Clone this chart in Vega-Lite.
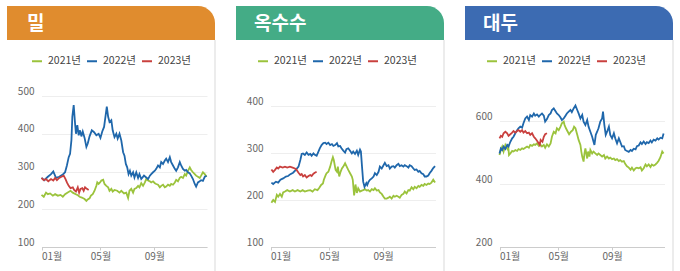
{
  "$schema": "https://vega.github.io/schema/vega-lite/v6.json",
  "padding": {"left": 7, "top": 6, "right": 2, "bottom": 0},
  "background": "white",
  "config": {
    "view": {"stroke": null},
    "font": "Noto Sans CJK KR",
    "axis": {"labelFont": "Noto Sans CJK KR", "labelFontSize": 10, "labelColor": "#666666", "title": null},
    "legend": {"labelFont": "Noto Sans CJK KR"}
  },
  "datasets": {
    "wheat": [
      {"date":"2021-01-01","price":238},{"date":"2021-01-06","price":233},{"date":"2021-01-11","price":244},{"date":"2021-01-15","price":240},{"date":"2021-01-20","price":242},{"date":"2021-01-26","price":236},{"date":"2021-01-31","price":240},{"date":"2021-02-06","price":236},{"date":"2021-02-12","price":238},{"date":"2021-02-17","price":233},{"date":"2021-02-22","price":240},{"date":"2021-02-27","price":244},{"date":"2021-03-05","price":249},{"date":"2021-03-10","price":244},{"date":"2021-03-13","price":242},{"date":"2021-03-20","price":238},{"date":"2021-03-25","price":233},{"date":"2021-03-30","price":231},{"date":"2021-04-05","price":227},{"date":"2021-04-09","price":222},{"date":"2021-04-12","price":226},{"date":"2021-04-16","price":229},{"date":"2021-04-19","price":236},{"date":"2021-04-23","price":240},{"date":"2021-04-27","price":249},{"date":"2021-05-01","price":262},{"date":"2021-05-03","price":271},{"date":"2021-05-06","price":267},{"date":"2021-05-09","price":271},{"date":"2021-05-12","price":276},{"date":"2021-05-16","price":278},{"date":"2021-05-19","price":267},{"date":"2021-05-23","price":262},{"date":"2021-05-27","price":258},{"date":"2021-05-30","price":249},{"date":"2021-06-03","price":254},{"date":"2021-06-06","price":247},{"date":"2021-06-10","price":251},{"date":"2021-06-16","price":249},{"date":"2021-06-21","price":244},{"date":"2021-06-25","price":249},{"date":"2021-07-01","price":242},{"date":"2021-07-06","price":244},{"date":"2021-07-10","price":230},{"date":"2021-07-13","price":249},{"date":"2021-07-17","price":254},{"date":"2021-07-21","price":244},{"date":"2021-07-24","price":254},{"date":"2021-07-28","price":256},{"date":"2021-08-01","price":262},{"date":"2021-08-04","price":258},{"date":"2021-08-08","price":269},{"date":"2021-08-12","price":262},{"date":"2021-08-16","price":271},{"date":"2021-08-19","price":280},{"date":"2021-08-23","price":276},{"date":"2021-08-27","price":274},{"date":"2021-08-30","price":271},{"date":"2021-09-03","price":274},{"date":"2021-09-07","price":269},{"date":"2021-09-10","price":267},{"date":"2021-09-14","price":265},{"date":"2021-09-18","price":258},{"date":"2021-09-21","price":262},{"date":"2021-09-25","price":265},{"date":"2021-09-29","price":258},{"date":"2021-10-02","price":260},{"date":"2021-10-06","price":265},{"date":"2021-10-10","price":262},{"date":"2021-10-13","price":267},{"date":"2021-10-17","price":265},{"date":"2021-10-21","price":271},{"date":"2021-10-24","price":278},{"date":"2021-10-28","price":274},{"date":"2021-11-01","price":283},{"date":"2021-11-04","price":286},{"date":"2021-11-08","price":283},{"date":"2021-11-12","price":293},{"date":"2021-11-15","price":289},{"date":"2021-11-19","price":302},{"date":"2021-11-23","price":311},{"date":"2021-11-26","price":304},{"date":"2021-11-30","price":298},{"date":"2021-12-04","price":293},{"date":"2021-12-07","price":289},{"date":"2021-12-11","price":286},{"date":"2021-12-15","price":283},{"date":"2021-12-18","price":289},{"date":"2021-12-22","price":298},{"date":"2021-12-26","price":293},{"date":"2021-12-30","price":286},
      {"date":"2022-01-01","price":283},{"date":"2022-01-07","price":277},{"date":"2022-01-15","price":286},{"date":"2022-01-22","price":293},{"date":"2022-01-27","price":300},{"date":"2022-02-02","price":283},{"date":"2022-02-09","price":286},{"date":"2022-02-17","price":292},{"date":"2022-02-22","price":298},{"date":"2022-02-26","price":316},{"date":"2022-03-01","price":338},{"date":"2022-03-04","price":347},{"date":"2022-03-07","price":383},{"date":"2022-03-09","price":445},{"date":"2022-03-12","price":476},{"date":"2022-03-15","price":427},{"date":"2022-03-17","price":400},{"date":"2022-03-20","price":423},{"date":"2022-03-23","price":396},{"date":"2022-03-26","price":409},{"date":"2022-03-29","price":393},{"date":"2022-04-01","price":406},{"date":"2022-04-05","price":389},{"date":"2022-04-09","price":365},{"date":"2022-04-12","price":374},{"date":"2022-04-16","price":393},{"date":"2022-04-21","price":409},{"date":"2022-04-26","price":404},{"date":"2022-05-01","price":396},{"date":"2022-05-06","price":400},{"date":"2022-05-10","price":389},{"date":"2022-05-14","price":406},{"date":"2022-05-18","price":418},{"date":"2022-05-21","price":445},{"date":"2022-05-24","price":472},{"date":"2022-05-27","price":445},{"date":"2022-05-30","price":431},{"date":"2022-06-03","price":436},{"date":"2022-06-06","price":409},{"date":"2022-06-10","price":391},{"date":"2022-06-14","price":400},{"date":"2022-06-17","price":387},{"date":"2022-06-21","price":400},{"date":"2022-06-25","price":382},{"date":"2022-06-29","price":351},{"date":"2022-07-02","price":342},{"date":"2022-07-05","price":320},{"date":"2022-07-08","price":311},{"date":"2022-07-11","price":293},{"date":"2022-07-14","price":302},{"date":"2022-07-17","price":289},{"date":"2022-07-21","price":298},{"date":"2022-07-24","price":284},{"date":"2022-07-28","price":298},{"date":"2022-08-01","price":283},{"date":"2022-08-04","price":293},{"date":"2022-08-08","price":280},{"date":"2022-08-14","price":289},{"date":"2022-08-19","price":284},{"date":"2022-08-23","price":280},{"date":"2022-08-27","price":289},{"date":"2022-08-30","price":293},{"date":"2022-09-03","price":298},{"date":"2022-09-07","price":302},{"date":"2022-09-10","price":307},{"date":"2022-09-14","price":316},{"date":"2022-09-18","price":311},{"date":"2022-09-21","price":325},{"date":"2022-09-25","price":320},{"date":"2022-09-29","price":329},{"date":"2022-10-02","price":334},{"date":"2022-10-06","price":325},{"date":"2022-10-10","price":338},{"date":"2022-10-13","price":325},{"date":"2022-10-17","price":316},{"date":"2022-10-21","price":307},{"date":"2022-10-24","price":302},{"date":"2022-10-28","price":311},{"date":"2022-11-01","price":325},{"date":"2022-11-04","price":316},{"date":"2022-11-08","price":307},{"date":"2022-11-12","price":302},{"date":"2022-11-15","price":304},{"date":"2022-11-19","price":298},{"date":"2022-11-23","price":295},{"date":"2022-11-26","price":289},{"date":"2022-11-30","price":280},{"date":"2022-12-04","price":267},{"date":"2022-12-07","price":260},{"date":"2022-12-11","price":271},{"date":"2022-12-15","price":274},{"date":"2022-12-18","price":277},{"date":"2022-12-22","price":275},{"date":"2022-12-26","price":286},{"date":"2022-12-30","price":289},
      {"date":"2023-01-01","price":283},{"date":"2023-01-06","price":277},{"date":"2023-01-11","price":280},{"date":"2023-01-16","price":274},{"date":"2023-01-22","price":280},{"date":"2023-01-27","price":276},{"date":"2023-01-31","price":283},{"date":"2023-02-04","price":277},{"date":"2023-02-09","price":283},{"date":"2023-02-14","price":286},{"date":"2023-02-19","price":289},{"date":"2023-02-23","price":280},{"date":"2023-02-26","price":271},{"date":"2023-03-01","price":262},{"date":"2023-03-05","price":256},{"date":"2023-03-10","price":258},{"date":"2023-03-13","price":251},{"date":"2023-03-17","price":247},{"date":"2023-03-21","price":258},{"date":"2023-03-24","price":244},{"date":"2023-03-27","price":254},{"date":"2023-03-31","price":256},{"date":"2023-04-03","price":249},{"date":"2023-04-06","price":258},{"date":"2023-04-10","price":254},{"date":"2023-04-14","price":251}
    ],
    "corn": [
      {"date":"2021-01-03","price":194},{"date":"2021-01-07","price":200},{"date":"2021-01-11","price":196},{"date":"2021-01-15","price":211},{"date":"2021-01-18","price":207},{"date":"2021-01-22","price":213},{"date":"2021-01-26","price":207},{"date":"2021-01-29","price":216},{"date":"2021-02-02","price":218},{"date":"2021-02-07","price":221},{"date":"2021-02-13","price":218},{"date":"2021-02-19","price":221},{"date":"2021-02-24","price":218},{"date":"2021-03-01","price":221},{"date":"2021-03-07","price":218},{"date":"2021-03-12","price":221},{"date":"2021-03-17","price":218},{"date":"2021-03-23","price":220},{"date":"2021-03-29","price":221},{"date":"2021-04-03","price":218},{"date":"2021-04-08","price":223},{"date":"2021-04-14","price":221},{"date":"2021-04-18","price":226},{"date":"2021-04-22","price":232},{"date":"2021-04-26","price":235},{"date":"2021-04-28","price":243},{"date":"2021-05-02","price":253},{"date":"2021-05-04","price":257},{"date":"2021-05-08","price":260},{"date":"2021-05-12","price":271},{"date":"2021-05-15","price":282},{"date":"2021-05-18","price":291},{"date":"2021-05-20","price":285},{"date":"2021-05-24","price":264},{"date":"2021-05-27","price":260},{"date":"2021-05-29","price":271},{"date":"2021-06-01","price":250},{"date":"2021-06-04","price":260},{"date":"2021-06-07","price":267},{"date":"2021-06-10","price":271},{"date":"2021-06-14","price":278},{"date":"2021-06-17","price":272},{"date":"2021-06-21","price":264},{"date":"2021-06-25","price":257},{"date":"2021-06-29","price":250},{"date":"2021-07-01","price":243},{"date":"2021-07-04","price":210},{"date":"2021-07-07","price":233},{"date":"2021-07-10","price":215},{"date":"2021-07-13","price":225},{"date":"2021-07-17","price":218},{"date":"2021-07-21","price":220},{"date":"2021-07-24","price":221},{"date":"2021-07-28","price":223},{"date":"2021-08-01","price":220},{"date":"2021-08-04","price":221},{"date":"2021-08-08","price":218},{"date":"2021-08-12","price":223},{"date":"2021-08-16","price":221},{"date":"2021-08-19","price":225},{"date":"2021-08-23","price":220},{"date":"2021-08-27","price":221},{"date":"2021-08-30","price":216},{"date":"2021-09-03","price":213},{"date":"2021-09-07","price":207},{"date":"2021-09-10","price":203},{"date":"2021-09-14","price":203},{"date":"2021-09-18","price":205},{"date":"2021-09-21","price":207},{"date":"2021-09-25","price":203},{"date":"2021-09-29","price":209},{"date":"2021-10-02","price":207},{"date":"2021-10-06","price":209},{"date":"2021-10-10","price":207},{"date":"2021-10-13","price":205},{"date":"2021-10-17","price":211},{"date":"2021-10-21","price":213},{"date":"2021-10-24","price":218},{"date":"2021-10-28","price":214},{"date":"2021-11-01","price":221},{"date":"2021-11-04","price":220},{"date":"2021-11-08","price":227},{"date":"2021-11-12","price":223},{"date":"2021-11-15","price":228},{"date":"2021-11-19","price":225},{"date":"2021-11-23","price":230},{"date":"2021-11-26","price":228},{"date":"2021-11-30","price":232},{"date":"2021-12-04","price":230},{"date":"2021-12-07","price":234},{"date":"2021-12-11","price":232},{"date":"2021-12-15","price":235},{"date":"2021-12-18","price":234},{"date":"2021-12-22","price":237},{"date":"2021-12-26","price":243},{"date":"2021-12-30","price":237},
      {"date":"2022-01-03","price":237},{"date":"2022-01-07","price":234},{"date":"2022-01-13","price":239},{"date":"2022-01-18","price":237},{"date":"2022-01-23","price":243},{"date":"2022-01-29","price":246},{"date":"2022-02-04","price":250},{"date":"2022-02-09","price":251},{"date":"2022-02-14","price":255},{"date":"2022-02-20","price":258},{"date":"2022-02-26","price":264},{"date":"2022-03-03","price":271},{"date":"2022-03-07","price":285},{"date":"2022-03-10","price":298},{"date":"2022-03-13","price":299},{"date":"2022-03-17","price":296},{"date":"2022-03-21","price":301},{"date":"2022-03-25","price":296},{"date":"2022-03-29","price":298},{"date":"2022-04-01","price":294},{"date":"2022-04-05","price":299},{"date":"2022-04-08","price":296},{"date":"2022-04-12","price":294},{"date":"2022-04-16","price":303},{"date":"2022-04-19","price":310},{"date":"2022-04-23","price":317},{"date":"2022-04-27","price":321},{"date":"2022-05-01","price":322},{"date":"2022-05-04","price":319},{"date":"2022-05-08","price":322},{"date":"2022-05-12","price":317},{"date":"2022-05-16","price":319},{"date":"2022-05-19","price":315},{"date":"2022-05-23","price":317},{"date":"2022-05-27","price":321},{"date":"2022-05-30","price":314},{"date":"2022-06-03","price":315},{"date":"2022-06-06","price":310},{"date":"2022-06-10","price":305},{"date":"2022-06-14","price":301},{"date":"2022-06-17","price":308},{"date":"2022-06-21","price":310},{"date":"2022-06-25","price":305},{"date":"2022-06-29","price":299},{"date":"2022-07-02","price":303},{"date":"2022-07-06","price":298},{"date":"2022-07-10","price":305},{"date":"2022-07-13","price":296},{"date":"2022-07-17","price":307},{"date":"2022-07-19","price":303},{"date":"2022-07-22","price":264},{"date":"2022-07-24","price":239},{"date":"2022-07-27","price":228},{"date":"2022-07-31","price":236},{"date":"2022-08-02","price":232},{"date":"2022-08-05","price":239},{"date":"2022-08-08","price":243},{"date":"2022-08-12","price":246},{"date":"2022-08-16","price":250},{"date":"2022-08-19","price":257},{"date":"2022-08-23","price":253},{"date":"2022-08-27","price":260},{"date":"2022-08-30","price":271},{"date":"2022-09-03","price":267},{"date":"2022-09-07","price":274},{"date":"2022-09-10","price":279},{"date":"2022-09-14","price":272},{"date":"2022-09-18","price":274},{"date":"2022-09-21","price":267},{"date":"2022-09-25","price":271},{"date":"2022-09-29","price":272},{"date":"2022-10-02","price":269},{"date":"2022-10-06","price":274},{"date":"2022-10-10","price":277},{"date":"2022-10-13","price":272},{"date":"2022-10-17","price":274},{"date":"2022-10-21","price":271},{"date":"2022-10-24","price":274},{"date":"2022-10-28","price":272},{"date":"2022-11-01","price":269},{"date":"2022-11-04","price":274},{"date":"2022-11-08","price":272},{"date":"2022-11-12","price":267},{"date":"2022-11-15","price":264},{"date":"2022-11-19","price":265},{"date":"2022-11-23","price":260},{"date":"2022-11-26","price":262},{"date":"2022-11-30","price":257},{"date":"2022-12-04","price":255},{"date":"2022-12-07","price":250},{"date":"2022-12-11","price":250},{"date":"2022-12-15","price":252},{"date":"2022-12-18","price":257},{"date":"2022-12-22","price":262},{"date":"2022-12-26","price":268},{"date":"2022-12-30","price":272},
      {"date":"2023-01-03","price":265},{"date":"2023-01-07","price":260},{"date":"2023-01-11","price":264},{"date":"2023-01-15","price":269},{"date":"2023-01-18","price":267},{"date":"2023-01-22","price":271},{"date":"2023-01-28","price":269},{"date":"2023-02-02","price":271},{"date":"2023-02-07","price":269},{"date":"2023-02-13","price":271},{"date":"2023-02-19","price":269},{"date":"2023-02-24","price":267},{"date":"2023-02-27","price":265},{"date":"2023-03-03","price":258},{"date":"2023-03-07","price":253},{"date":"2023-03-10","price":255},{"date":"2023-03-13","price":250},{"date":"2023-03-17","price":253},{"date":"2023-03-21","price":248},{"date":"2023-03-25","price":251},{"date":"2023-03-29","price":253},{"date":"2023-04-01","price":251},{"date":"2023-04-05","price":256},{"date":"2023-04-08","price":258},{"date":"2023-04-12","price":260}
    ],
    "soy": [
      {"date":"2021-01-01","price":492},{"date":"2021-01-04","price":508},{"date":"2021-01-07","price":519},{"date":"2021-01-10","price":503},{"date":"2021-01-14","price":524},{"date":"2021-01-18","price":513},{"date":"2021-01-20","price":526},{"date":"2021-01-22","price":492},{"date":"2021-01-25","price":497},{"date":"2021-01-29","price":505},{"date":"2021-02-01","price":503},{"date":"2021-02-05","price":508},{"date":"2021-02-09","price":505},{"date":"2021-02-12","price":511},{"date":"2021-02-16","price":508},{"date":"2021-02-20","price":513},{"date":"2021-02-23","price":511},{"date":"2021-02-27","price":515},{"date":"2021-03-02","price":519},{"date":"2021-03-06","price":515},{"date":"2021-03-09","price":524},{"date":"2021-03-13","price":521},{"date":"2021-03-17","price":526},{"date":"2021-03-20","price":524},{"date":"2021-03-24","price":529},{"date":"2021-03-28","price":521},{"date":"2021-03-31","price":526},{"date":"2021-04-04","price":519},{"date":"2021-04-08","price":524},{"date":"2021-04-11","price":515},{"date":"2021-04-15","price":526},{"date":"2021-04-19","price":519},{"date":"2021-04-23","price":529},{"date":"2021-04-26","price":550},{"date":"2021-04-30","price":566},{"date":"2021-05-04","price":561},{"date":"2021-05-07","price":577},{"date":"2021-05-11","price":571},{"date":"2021-05-15","price":582},{"date":"2021-05-18","price":593},{"date":"2021-05-22","price":598},{"date":"2021-05-24","price":587},{"date":"2021-05-27","price":577},{"date":"2021-05-31","price":566},{"date":"2021-06-03","price":558},{"date":"2021-06-07","price":566},{"date":"2021-06-11","price":571},{"date":"2021-06-14","price":582},{"date":"2021-06-17","price":577},{"date":"2021-06-21","price":556},{"date":"2021-06-24","price":540},{"date":"2021-06-28","price":524},{"date":"2021-06-30","price":503},{"date":"2021-07-02","price":487},{"date":"2021-07-05","price":471},{"date":"2021-07-07","price":497},{"date":"2021-07-09","price":513},{"date":"2021-07-13","price":481},{"date":"2021-07-15","price":503},{"date":"2021-07-18","price":487},{"date":"2021-07-20","price":508},{"date":"2021-07-24","price":497},{"date":"2021-07-27","price":503},{"date":"2021-07-31","price":497},{"date":"2021-08-04","price":492},{"date":"2021-08-07","price":497},{"date":"2021-08-11","price":492},{"date":"2021-08-15","price":487},{"date":"2021-08-19","price":492},{"date":"2021-08-22","price":481},{"date":"2021-08-26","price":487},{"date":"2021-08-30","price":481},{"date":"2021-09-02","price":484},{"date":"2021-09-06","price":479},{"date":"2021-09-10","price":481},{"date":"2021-09-13","price":476},{"date":"2021-09-17","price":479},{"date":"2021-09-21","price":473},{"date":"2021-09-24","price":476},{"date":"2021-09-28","price":471},{"date":"2021-10-02","price":473},{"date":"2021-10-05","price":464},{"date":"2021-10-09","price":456},{"date":"2021-10-13","price":452},{"date":"2021-10-17","price":445},{"date":"2021-10-20","price":452},{"date":"2021-10-24","price":443},{"date":"2021-10-28","price":450},{"date":"2021-10-31","price":452},{"date":"2021-11-04","price":450},{"date":"2021-11-08","price":453},{"date":"2021-11-11","price":443},{"date":"2021-11-15","price":450},{"date":"2021-11-19","price":462},{"date":"2021-11-22","price":456},{"date":"2021-11-26","price":462},{"date":"2021-11-30","price":454},{"date":"2021-12-03","price":462},{"date":"2021-12-07","price":458},{"date":"2021-12-11","price":462},{"date":"2021-12-15","price":468},{"date":"2021-12-18","price":474},{"date":"2021-12-22","price":485},{"date":"2021-12-26","price":503},{"date":"2021-12-29","price":497},
      {"date":"2022-01-01","price":497},{"date":"2022-01-04","price":513},{"date":"2022-01-07","price":508},{"date":"2022-01-10","price":519},{"date":"2022-01-14","price":511},{"date":"2022-01-18","price":524},{"date":"2022-01-21","price":519},{"date":"2022-01-25","price":534},{"date":"2022-01-29","price":545},{"date":"2022-02-01","price":550},{"date":"2022-02-05","price":561},{"date":"2022-02-09","price":571},{"date":"2022-02-12","price":577},{"date":"2022-02-16","price":582},{"date":"2022-02-20","price":579},{"date":"2022-02-23","price":593},{"date":"2022-02-27","price":608},{"date":"2022-03-02","price":614},{"date":"2022-03-06","price":603},{"date":"2022-03-09","price":619},{"date":"2022-03-13","price":614},{"date":"2022-03-17","price":624},{"date":"2022-03-20","price":617},{"date":"2022-03-24","price":621},{"date":"2022-03-28","price":614},{"date":"2022-03-31","price":619},{"date":"2022-04-04","price":624},{"date":"2022-04-08","price":617},{"date":"2022-04-11","price":598},{"date":"2022-04-15","price":606},{"date":"2022-04-19","price":619},{"date":"2022-04-23","price":624},{"date":"2022-04-26","price":635},{"date":"2022-04-30","price":640},{"date":"2022-05-04","price":631},{"date":"2022-05-07","price":624},{"date":"2022-05-11","price":619},{"date":"2022-05-15","price":611},{"date":"2022-05-18","price":603},{"date":"2022-05-22","price":608},{"date":"2022-05-26","price":617},{"date":"2022-05-29","price":624},{"date":"2022-06-02","price":630},{"date":"2022-06-06","price":635},{"date":"2022-06-09","price":628},{"date":"2022-06-13","price":640},{"date":"2022-06-17","price":649},{"date":"2022-06-21","price":635},{"date":"2022-06-24","price":624},{"date":"2022-06-28","price":608},{"date":"2022-07-02","price":619},{"date":"2022-07-05","price":598},{"date":"2022-07-09","price":587},{"date":"2022-07-13","price":603},{"date":"2022-07-16","price":582},{"date":"2022-07-20","price":566},{"date":"2022-07-24","price":550},{"date":"2022-07-27","price":534},{"date":"2022-07-29","price":524},{"date":"2022-08-01","price":556},{"date":"2022-08-04","price":566},{"date":"2022-08-07","price":577},{"date":"2022-08-11","price":598},{"date":"2022-08-15","price":608},{"date":"2022-08-17","price":630},{"date":"2022-08-20","price":587},{"date":"2022-08-23","price":556},{"date":"2022-08-26","price":566},{"date":"2022-08-30","price":582},{"date":"2022-09-02","price":556},{"date":"2022-09-06","price":545},{"date":"2022-09-10","price":561},{"date":"2022-09-13","price":545},{"date":"2022-09-17","price":529},{"date":"2022-09-21","price":545},{"date":"2022-09-24","price":534},{"date":"2022-09-28","price":519},{"date":"2022-10-02","price":520},{"date":"2022-10-05","price":508},{"date":"2022-10-09","price":505},{"date":"2022-10-13","price":502},{"date":"2022-10-17","price":508},{"date":"2022-10-20","price":505},{"date":"2022-10-24","price":512},{"date":"2022-10-28","price":510},{"date":"2022-10-31","price":520},{"date":"2022-11-04","price":522},{"date":"2022-11-08","price":532},{"date":"2022-11-11","price":527},{"date":"2022-11-15","price":535},{"date":"2022-11-19","price":527},{"date":"2022-11-22","price":533},{"date":"2022-11-26","price":530},{"date":"2022-11-30","price":538},{"date":"2022-12-03","price":532},{"date":"2022-12-07","price":541},{"date":"2022-12-11","price":538},{"date":"2022-12-15","price":545},{"date":"2022-12-18","price":541},{"date":"2022-12-22","price":547},{"date":"2022-12-26","price":545},{"date":"2022-12-29","price":560},
      {"date":"2023-01-01","price":545},{"date":"2023-01-04","price":553},{"date":"2023-01-07","price":550},{"date":"2023-01-10","price":561},{"date":"2023-01-14","price":566},{"date":"2023-01-18","price":561},{"date":"2023-01-21","price":553},{"date":"2023-01-25","price":558},{"date":"2023-01-29","price":563},{"date":"2023-02-01","price":568},{"date":"2023-02-05","price":563},{"date":"2023-02-09","price":568},{"date":"2023-02-12","price":571},{"date":"2023-02-16","price":566},{"date":"2023-02-20","price":571},{"date":"2023-02-23","price":563},{"date":"2023-02-27","price":568},{"date":"2023-03-02","price":561},{"date":"2023-03-06","price":563},{"date":"2023-03-09","price":556},{"date":"2023-03-13","price":561},{"date":"2023-03-17","price":550},{"date":"2023-03-20","price":545},{"date":"2023-03-24","price":537},{"date":"2023-03-28","price":529},{"date":"2023-03-30","price":524},{"date":"2023-04-01","price":540},{"date":"2023-04-05","price":534},{"date":"2023-04-08","price":550},{"date":"2023-04-11","price":558},{"date":"2023-04-15","price":561}
    ]
  },
  "hconcat": [
    {
      "width": 208, "height": 265,
      "layer": [
        {"data": {"values": [{"name": "밀"}]}, "mark": {"type": "rect", "color": "#E08C2E", "cornerRadiusTopRight": 24}, "encoding": {"x": {"value": 0}, "x2": {"value": "width"}, "y": {"value": 0}, "y2": {"value": 34}}},
        {"data": {"values": [{"name": "밀"}]}, "mark": {"type": "rule", "color": "#d9d9d9", "strokeWidth": 1}, "encoding": {"x": {"value": "width"}, "y": {"value": 34}, "y2": {"value": "height"}}},
        {"data": {"values": [{"name": "밀"}]}, "mark": {"type": "text", "color": "#ffffff", "fontSize": 19, "fontWeight": "bold", "align": "left", "baseline": "middle", "font": "Noto Sans CJK KR"}, "encoding": {"x": {"value": 20}, "y": {"value": 17.5}, "text": {"field": "name"}}},
        {
          "data": {"name": "wheat"},
          "mark": {"type": "line", "strokeWidth": 1.8},
          "encoding": {
            "x": {"field": "date", "timeUnit": "monthdate", "type": "temporal",
              "scale": {"domain": [{"year": 2012, "month": 1, "date": 1}, {"year": 2012, "month": 12, "date": 31}], "range": [34.5, 200]},
              "axis": {"orient": "bottom", "offset": -24, "values": [{"year": 2012, "month": 1, "date": 1}, {"year": 2012, "month": 5, "date": 10}, {"year": 2012, "month": 9, "date": 6}], "format": "%m월", "grid": false, "domainColor": "#cccccc", "tickColor": "#cccccc", "tickSize": 3, "labelPadding": 1, "labelFlush": true}},
            "y": {"field": "price", "type": "quantitative",
              "scale": {"domain": [100, 500], "range": [241, 90], "nice": false, "zero": false},
              "axis": {"orient": "left", "offset": -29, "values": [100, 200, 300, 400, 500], "ticks": false, "domain": false, "labelPadding": 2, "labelOffset": -5, "grid": true, "gridColor": "#eeeeee"}},
            "color": {"field": "date", "timeUnit": "year", "type": "ordinal",
              "scale": {"range": ["#9BC33C", "#1F67AB", "#C9403E"]},
              "legend": {"orient": "none", "legendX": 24, "legendY": 49, "direction": "horizontal", "columns": 3, "title": null, "symbolType": "stroke", "symbolSize": 100, "symbolStrokeWidth": 2, "labelFontSize": 10.5, "labelColor": "#444444", "labelExpr": "datum.label + '년'", "columnPadding": 2, "labelOffset": 5}}
          }
        }
      ]
    },
    {
      "width": 208, "height": 265,
      "layer": [
        {"data": {"values": [{"name": "옥수수"}]}, "mark": {"type": "rect", "color": "#44AC86", "cornerRadiusTopRight": 24}, "encoding": {"x": {"value": 0}, "x2": {"value": "width"}, "y": {"value": 0}, "y2": {"value": 34}}},
        {"data": {"values": [{"name": "옥수수"}]}, "mark": {"type": "rule", "color": "#d9d9d9", "strokeWidth": 1}, "encoding": {"x": {"value": "width"}, "y": {"value": 34}, "y2": {"value": "height"}}},
        {"data": {"values": [{"name": "옥수수"}]}, "mark": {"type": "text", "color": "#ffffff", "fontSize": 19, "fontWeight": "bold", "align": "left", "baseline": "middle", "font": "Noto Sans CJK KR"}, "encoding": {"x": {"value": 18}, "y": {"value": 17.5}, "text": {"field": "name"}}},
        {
          "data": {"name": "corn"},
          "mark": {"type": "line", "strokeWidth": 1.8},
          "encoding": {
            "x": {"field": "date", "timeUnit": "monthdate", "type": "temporal",
              "scale": {"domain": [{"year": 2012, "month": 1, "date": 1}, {"year": 2012, "month": 12, "date": 31}], "range": [34.5, 199.5]},
              "axis": {"orient": "bottom", "offset": -24, "values": [{"year": 2012, "month": 1, "date": 1}, {"year": 2012, "month": 5, "date": 10}, {"year": 2012, "month": 9, "date": 6}], "format": "%m월", "grid": false, "domainColor": "#cccccc", "tickColor": "#cccccc", "tickSize": 3, "labelPadding": 1, "labelFlush": true}},
            "y": {"field": "price", "type": "quantitative",
              "scale": {"domain": [100, 400], "range": [241, 100], "nice": false, "zero": false},
              "axis": {"orient": "left", "offset": -29, "values": [100, 200, 300, 400], "ticks": false, "domain": false, "labelPadding": 2, "labelOffset": -5, "grid": true, "gridColor": "#eeeeee"}},
            "color": {"field": "date", "timeUnit": "year", "type": "ordinal",
              "scale": {"range": ["#9BC33C", "#1F67AB", "#C9403E"]},
              "legend": {"orient": "none", "legendX": 21, "legendY": 49, "direction": "horizontal", "columns": 3, "title": null, "symbolType": "stroke", "symbolSize": 100, "symbolStrokeWidth": 2, "labelFontSize": 10.5, "labelColor": "#444444", "labelExpr": "datum.label + '년'", "columnPadding": 2, "labelOffset": 5}}
          }
        }
      ]
    },
    {
      "width": 208, "height": 265,
      "layer": [
        {"data": {"values": [{"name": "대두"}]}, "mark": {"type": "rect", "color": "#3C6BB2", "cornerRadiusTopRight": 24}, "encoding": {"x": {"value": 0}, "x2": {"value": "width"}, "y": {"value": 0}, "y2": {"value": 34}}},
        {"data": {"values": [{"name": "대두"}]}, "mark": {"type": "rule", "color": "#d9d9d9", "strokeWidth": 1}, "encoding": {"x": {"value": "width"}, "y": {"value": 34}, "y2": {"value": "height"}}},
        {"data": {"values": [{"name": "대두"}]}, "mark": {"type": "text", "color": "#ffffff", "fontSize": 19, "fontWeight": "bold", "align": "left", "baseline": "middle", "font": "Noto Sans CJK KR"}, "encoding": {"x": {"value": 18}, "y": {"value": 17.5}, "text": {"field": "name"}}},
        {
          "data": {"name": "soy"},
          "mark": {"type": "line", "strokeWidth": 1.8},
          "encoding": {
            "x": {"field": "date", "timeUnit": "monthdate", "type": "temporal",
              "scale": {"domain": [{"year": 2012, "month": 1, "date": 1}, {"year": 2012, "month": 12, "date": 31}], "range": [34.5, 199.5]},
              "axis": {"orient": "bottom", "offset": -24, "values": [{"year": 2012, "month": 1, "date": 1}, {"year": 2012, "month": 5, "date": 10}, {"year": 2012, "month": 9, "date": 6}], "format": "%m월", "grid": false, "domainColor": "#cccccc", "tickColor": "#cccccc", "tickSize": 3, "labelPadding": 1, "labelFlush": true}},
            "y": {"field": "price", "type": "quantitative",
              "scale": {"domain": [200, 600], "range": [241, 115], "nice": false, "zero": false},
              "axis": {"orient": "left", "offset": -29, "values": [200, 400, 600], "ticks": false, "domain": false, "labelPadding": 2, "labelOffset": -5, "grid": true, "gridColor": "#eeeeee"}},
            "color": {"field": "date", "timeUnit": "year", "type": "ordinal",
              "scale": {"range": ["#9BC33C", "#1F67AB", "#C9403E"]},
              "legend": {"orient": "none", "legendX": 21, "legendY": 49, "direction": "horizontal", "columns": 3, "title": null, "symbolType": "stroke", "symbolSize": 100, "symbolStrokeWidth": 2, "labelFontSize": 10.5, "labelColor": "#444444", "labelExpr": "datum.label + '년'", "columnPadding": 2, "labelOffset": 5}}
          }
        }
      ]
    }
  ],
  "spacing": 20,
  "resolve": {"scale": {"color": "independent"}, "legend": {"color": "independent"}}
}
